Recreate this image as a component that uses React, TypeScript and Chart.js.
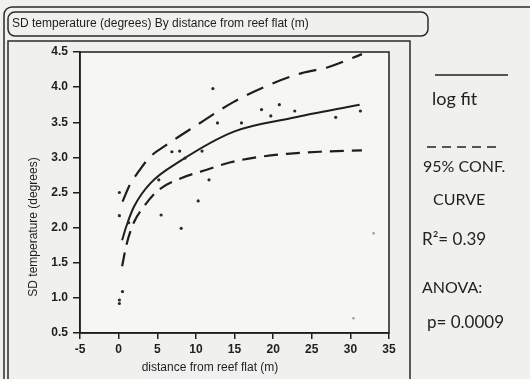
import React, { useEffect, useRef } from "react";
import { Chart, registerables } from "chart.js";

Chart.register(...registerables);

// ---- data ----
const pointX = [0.1, 0.1, 0.5, 0.1, 0.1, 1.3, 5.2, 5.5, 6.9, 7.9, 8.1, 8.6, 10.3, 10.8, 11.7, 12.2, 12.8, 15.9, 18.5, 19.7, 20.8, 22.8, 28.1, 31.3];
const pointY = [2.5, 2.17, 1.09, 0.97, 0.92, 2.07, 2.68, 2.18, 3.08, 3.09, 1.99, 2.99, 2.38, 3.09, 2.68, 3.98, 3.49, 3.49, 3.68, 3.59, 3.75, 3.66, 3.57, 3.66];
const faintX = [33.0, 30.4];
const faintY = [1.92, 0.71];

const fitX = [0.45, 1.0, 2.0, 4.1, 8.0, 15.0, 22.4, 31.2];
const fitY = [1.82, 2.02, 2.3, 2.63, 2.95, 3.37, 3.56, 3.75];

const upperX = [0.5, 1.5, 2.6, 4.0, 6.1, 9.7, 14.9, 18.8, 23.7, 27.0, 31.5];
const upperY = [2.37, 2.62, 2.8, 3.0, 3.17, 3.43, 3.79, 4.0, 4.2, 4.28, 4.47];

const lowerX = [0.45, 1.0, 2.0, 3.2, 5.0, 8.0, 11.3, 14.5, 17.8, 21.8, 26.0, 31.5];
const lowerY = [1.45, 1.75, 2.08, 2.29, 2.52, 2.7, 2.82, 2.93, 3.0, 3.05, 3.08, 3.1];

const xTickValues = [-5, 0, 5, 10, 15, 20, 25, 30, 35];
const yTickValues = [0.5, 1.0, 1.5, 2.0, 2.5, 3.0, 3.5, 4.0, 4.5];

const titleText = "SD temperature (degrees) By distance from reef flat (m)";
const xTitle = "distance from reef flat (m)";
const yTitle = "SD temperature (degrees)";
const noteLogFit = "log fit";
const noteConf1 = "95% CONF.";
const noteConf2 = "CURVE";
const noteR2 = "R²= 0.39";
const noteAnova = "ANOVA:";
const noteP = "p= 0.0009";

const toXY = (xs: number[], ys: number[]) => xs.map((x, i) => ({ x, y: ys[i] }));

const INK = "#1e1e1e";
const SANS = '"Liberation Sans", Arial, sans-serif';
const HAND = 'Lato, "Noto Sans", sans-serif';

function roundRect(ctx: CanvasRenderingContext2D, x: number, y: number, w: number, h: number, r: number) {
  ctx.beginPath();
  ctx.moveTo(x + r, y);
  ctx.lineTo(x + w - r, y);
  ctx.arcTo(x + w, y, x + w, y + r, r);
  ctx.lineTo(x + w, y + h - r);
  ctx.arcTo(x + w, y + h, x + w - r, y + h, r);
  ctx.lineTo(x + r, y + h);
  ctx.arcTo(x, y + h, x, y + h - r, r);
  ctx.lineTo(x, y + r);
  ctx.arcTo(x, y, x + r, y, r);
  ctx.closePath();
}

const decoPlugin = {
  id: "deco",
  beforeDraw(chart: any) {
    const ctx: CanvasRenderingContext2D = chart.ctx;
    const a = chart.chartArea;
    ctx.save();
    ctx.fillStyle = "#f0f0ee";
    ctx.fillRect(0, 0, chart.width, chart.height);
    ctx.fillStyle = "#f6f6f5";
    ctx.fillRect(a.left, a.top, a.right - a.left, a.bottom - a.top);

    ctx.strokeStyle = "#2a2a2a";
    ctx.lineWidth = 1.5;
    // outer sheet frame
    ctx.beginPath();
    ctx.moveTo(4, chart.height);
    ctx.lineTo(4, 15);
    ctx.arcTo(4, 7, 12, 7, 8);
    ctx.lineTo(chart.width, 7);
    ctx.stroke();
    // title box
    roundRect(ctx, 8, 12, 420, 24, 7);
    ctx.stroke();
    // panel box
    ctx.beginPath();
    ctx.moveTo(8, chart.height);
    ctx.lineTo(8, 41);
    ctx.lineTo(410, 41);
    ctx.lineTo(410, chart.height);
    ctx.stroke();

    ctx.fillStyle = INK;
    ctx.font = `12px ${SANS}`;
    ctx.textBaseline = "middle";
    ctx.textAlign = "left";
    ctx.fillText(titleText, 12, 24);
    ctx.restore();
  },
  afterDraw(chart: any) {
    const ctx: CanvasRenderingContext2D = chart.ctx;
    const a = chart.chartArea;
    ctx.save();
    // plot frame
    ctx.strokeStyle = INK;
    ctx.lineWidth = 1.5;
    ctx.strokeRect(a.left, a.top, a.right - a.left, a.bottom - a.top);

    // axis titles
    ctx.fillStyle = INK;
    ctx.font = `12px ${SANS}`;
    ctx.textAlign = "center";
    ctx.textBaseline = "middle";
    ctx.fillText(xTitle, 210, 368);
    ctx.save();
    ctx.translate(34, 227);
    ctx.rotate(-Math.PI / 2);
    ctx.fillText(yTitle, 0, 0);
    ctx.restore();

    // handwritten notes
    ctx.strokeStyle = "#222";
    ctx.lineWidth = 1.4;
    ctx.beginPath();
    ctx.moveTo(435, 75);
    ctx.lineTo(508, 75);
    ctx.stroke();
    ctx.setLineDash([9, 6]);
    ctx.beginPath();
    ctx.moveTo(427, 147);
    ctx.lineTo(502, 147);
    ctx.stroke();
    ctx.setLineDash([]);

    ctx.fillStyle = "#222";
    ctx.textAlign = "left";
    ctx.font = `18px ${HAND}`;
    ctx.fillText(noteLogFit, 432, 99);
    ctx.font = `16px ${HAND}`;
    ctx.fillText(noteConf1, 423, 167, 88);
    ctx.fillText(noteConf2, 433, 200);
    ctx.font = `17px ${HAND}`;
    ctx.fillText(noteR2, 422, 240);
    ctx.font = `16px ${HAND}`;
    ctx.fillText(noteAnova, 422, 288);
    ctx.font = `17px ${HAND}`;
    ctx.fillText(noteP, 427, 323, 90);
    ctx.restore();
  },
};

export default function App() {
  const canvasRef = useRef<HTMLCanvasElement | null>(null);

  useEffect(() => {
    const canvas = canvasRef.current;
    if (!canvas) return;
    const chart = new Chart(canvas, {
      type: "scatter",
      data: {
        datasets: [
          {
            label: "points",
            data: toXY(pointX, pointY),
            showLine: false,
            pointRadius: 1.6,
            pointBorderWidth: 0,
            pointBackgroundColor: "#2a2a2a",
          },
          {
            label: "faint points",
            data: toXY(faintX, faintY),
            showLine: false,
            pointRadius: 1.2,
            pointBorderWidth: 0,
            pointBackgroundColor: "#9a9a9a",
          },
          {
            label: "log fit",
            data: toXY(fitX, fitY),
            showLine: true,
            pointRadius: 0,
            borderColor: INK,
            borderWidth: 2,
            cubicInterpolationMode: "monotone",
          },
          {
            label: "upper 95%",
            data: toXY(upperX, upperY),
            showLine: true,
            pointRadius: 0,
            borderColor: INK,
            borderWidth: 2.2,
            borderDash: [18, 10],
            cubicInterpolationMode: "monotone",
          },
          {
            label: "lower 95%",
            data: toXY(lowerX, lowerY),
            showLine: true,
            pointRadius: 0,
            borderColor: INK,
            borderWidth: 2.2,
            borderDash: [14, 8],
            cubicInterpolationMode: "monotone",
          },
        ],
      },
      options: {
        responsive: false,
        animation: false,
        devicePixelRatio: 1,
        layout: { padding: { top: 52, right: 141, bottom: 0, left: 0 } },
        plugins: {
          legend: { display: false },
          title: { display: false },
          tooltip: { enabled: false },
        },
        scales: {
          x: {
            type: "linear",
            min: xTickValues[0],
            max: xTickValues[xTickValues.length - 1],
            afterBuildTicks: (s: any) => {
              s.ticks = xTickValues.map((v) => ({ value: v }));
            },
            afterFit: (s: any) => {
              s.height = 46;
            },
            grid: {
              drawOnChartArea: false,
              drawTicks: true,
              tickLength: 6,
              color: INK,
              lineWidth: 1.5,
            },
            border: { display: true, color: INK, width: 1.5 },
            ticks: {
              color: INK,
              padding: 3,
              font: { family: SANS, size: 12, weight: "bold" },
              callback: (v: any) => String(v),
            },
            title: { display: false },
          },
          y: {
            type: "linear",
            min: yTickValues[0],
            max: yTickValues[yTickValues.length - 1],
            afterBuildTicks: (s: any) => {
              s.ticks = yTickValues.map((v) => ({ value: v }));
            },
            afterFit: (s: any) => {
              s.width = 80;
            },
            grid: {
              drawOnChartArea: false,
              drawTicks: true,
              tickLength: 7,
              color: INK,
              lineWidth: 1.5,
            },
            border: { display: true, color: INK, width: 1.5 },
            ticks: {
              color: INK,
              padding: 5,
              font: { family: SANS, size: 12, weight: "bold" },
              callback: (v: any) => Number(v).toFixed(1),
            },
            title: { display: false },
          },
        },
      },
      plugins: [decoPlugin],
    });
    return () => chart.destroy();
  }, []);

  return (
    <div style={{ position: "absolute", left: 0, top: 0, width: 530, height: 379, overflow: "hidden" }}>
      <canvas ref={canvasRef} width={530} height={379} style={{ display: "block", width: 530, height: 379 }} />
    </div>
  );
}
